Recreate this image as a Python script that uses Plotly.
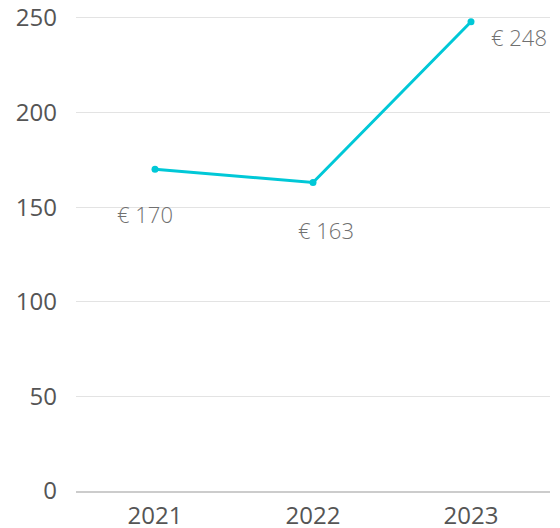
import plotly.graph_objects as go

years = ["2021", "2022", "2023"]
values = [170, 163, 248]
labels = ["€ 170", "€ 163", "€ 248"]
label_shifts = [(-10, -45), (13, -47), (48, -15)]

fig = go.Figure()
fig.add_trace(go.Scatter(
    x=years, y=values, mode="lines+markers",
    line=dict(color="#00c8d7", width=3),
    marker=dict(size=7, color="#00c8d7"),
    hoverinfo="skip", showlegend=False, cliponaxis=False,
))
for i, (y, t, (dx, dy)) in enumerate(zip(values, labels, label_shifts)):
    fig.add_annotation(x=i, y=y, text=t, showarrow=False,
                       xshift=dx, yshift=dy,
                       font=dict(family="Open Sans", size=22, color="#707070", weight=300))

fig.update_layout(
    width=552, height=520,
    margin=dict(l=68, r=10, t=8, b=37, autoexpand=False),
    paper_bgcolor="white", plot_bgcolor="white",
    font=dict(family="Open Sans", color="#555555"),
)
fig.update_xaxes(
    type="category", range=[-0.5, 2.5], automargin=False,
    showgrid=False, showline=True, linecolor="#cccccc", linewidth=2,
    ticks="", tickfont=dict(size=24, color="#555555"), ticklabelstandoff=2,
    ticklabeloverflow="allow",
)
fig.update_yaxes(
    range=[0, 251], tickvals=[0, 50, 100, 150, 200, 250], automargin=False,
    showgrid=True, gridcolor="#e3e3e3", gridwidth=1, zeroline=False,
    showline=False, ticks="", tickfont=dict(size=24, color="#555555"),
    ticklabelstandoff=18, ticklabeloverflow="allow",
)
fig.write_html("out.html")
